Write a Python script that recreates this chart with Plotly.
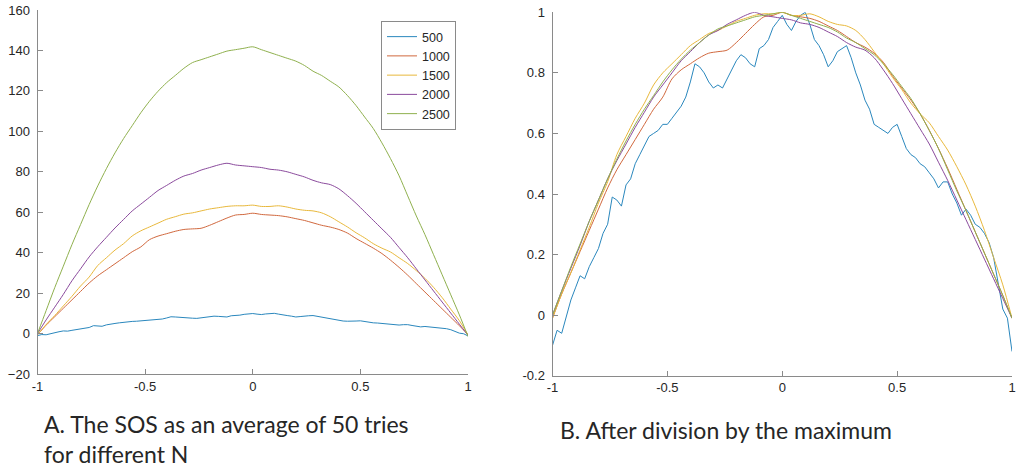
import numpy as np
import plotly.graph_objects as go

# ---- data ----
series_names = ["500", "1000", "1500", "2000", "2500"]

# shapes after division by the maximum (panel B), sampled evenly on [-1, 1]
norm_500 = [-0.10, -0.05, -0.06, 0.00, 0.05, 0.09, 0.13, 0.12, 0.16, 0.19,
            0.22, 0.27, 0.30, 0.39, 0.38, 0.36, 0.43, 0.45, 0.50, 0.53,
            0.56, 0.59, 0.60, 0.61, 0.63, 0.63, 0.65, 0.67, 0.69, 0.72,
            0.77, 0.83, 0.82, 0.80, 0.77, 0.75, 0.76, 0.75, 0.78, 0.81,
            0.84, 0.86, 0.85, 0.83, 0.82, 0.88, 0.89, 0.91, 0.95, 0.97,
            0.99, 0.96, 0.94, 0.97, 0.99, 1.00, 0.96, 0.91, 0.89, 0.86,
            0.82, 0.84, 0.87, 0.88, 0.89, 0.85, 0.80, 0.76, 0.71, 0.68,
            0.63, 0.62, 0.61, 0.60, 0.62, 0.63, 0.59, 0.55, 0.53, 0.52,
            0.50, 0.49, 0.47, 0.45, 0.42, 0.44, 0.44, 0.40, 0.37, 0.33,
            0.35, 0.33, 0.30, 0.29, 0.27, 0.24, 0.19, 0.10, 0.02, -0.01,
            -0.12]
norm_1000 = [-0.01, 0.07, 0.14, 0.21, 0.28, 0.35, 0.42, 0.48, 0.53, 0.58,
             0.63, 0.68, 0.72, 0.78, 0.81, 0.83, 0.85, 0.865, 0.87, 0.875,
             0.90, 0.93, 0.96, 0.985, 0.99, 1.00, 0.99, 0.985, 0.98, 0.97,
             0.955, 0.94, 0.92, 0.90, 0.885, 0.865, 0.835, 0.79, 0.75, 0.71,
             0.665, 0.61, 0.55, 0.485, 0.415, 0.345, 0.275, 0.205, 0.135, 0.065,
             -0.01]
norm_1500 = [-0.01, 0.07, 0.14, 0.215, 0.29, 0.37, 0.44, 0.53, 0.59, 0.65,
             0.70, 0.76, 0.80, 0.83, 0.86, 0.89, 0.91, 0.93, 0.94, 0.955,
             0.97, 0.98, 0.99, 0.995, 0.995, 1.00, 0.99, 0.99, 0.995, 0.985,
             0.97, 0.96, 0.955, 0.94, 0.91, 0.87, 0.83, 0.785, 0.745, 0.70,
             0.665, 0.635, 0.59, 0.545, 0.49, 0.43, 0.36, 0.28, 0.19, 0.10,
             -0.01]
norm_2000 = [0.00, 0.08, 0.155, 0.23, 0.31, 0.38, 0.45, 0.51, 0.565, 0.62,
             0.67, 0.72, 0.76, 0.80, 0.84, 0.87, 0.90, 0.925, 0.94, 0.96,
             0.975, 0.99, 1.00, 0.99, 0.985, 0.98, 0.975, 0.965, 0.96, 0.95,
             0.935, 0.92, 0.90, 0.885, 0.875, 0.85, 0.81, 0.765, 0.715, 0.665,
             0.615, 0.565, 0.505, 0.445, 0.38, 0.315, 0.25, 0.185, 0.12, 0.055,
             -0.01]
norm_2500 = [0.00, 0.08, 0.16, 0.235, 0.31, 0.38, 0.45, 0.515, 0.575, 0.63,
             0.68, 0.725, 0.77, 0.81, 0.845, 0.875, 0.90, 0.925, 0.945, 0.955,
             0.965, 0.975, 0.985, 0.99, 0.995, 1.00, 0.99, 0.98, 0.97, 0.96,
             0.95, 0.935, 0.915, 0.90, 0.88, 0.86, 0.83, 0.795, 0.755, 0.715,
             0.665, 0.61, 0.55, 0.48, 0.41, 0.345, 0.275, 0.205, 0.135, 0.065,
             -0.01]

# maxima of the SOS curves (panel A)
peak_values = [10.0, 59.5, 63.5, 84.2, 141.8]

colors = ["#2a87bd", "#d0683e", "#e8b83c", "#8a4a9c", "#8fb04e"]
line_shapes = ["linear", "spline", "spline", "spline", "spline"]

x_ticks = [-1, -0.5, 0, 0.5, 1]
x_ticktext = ["-1", "-0.5", "0", "0.5", "1"]
yA_ticks = [-20, 0, 20, 40, 60, 80, 100, 120, 140, 160]
yB_ticks = [-0.2, 0, 0.2, 0.4, 0.6, 0.8, 1]
yB_ticktext = ["-0.2", "0", "0.2", "0.4", "0.6", "0.8", "1"]

caption_A = "A. The SOS as an average of 50 tries<br>for different N"
caption_B = "B. After division by the maximum"

# ---- build ----
norms = [norm_500, norm_1000, norm_1500, norm_2000, norm_2500]
fig = go.Figure()
for name, nv, pk, col, ls in zip(series_names, norms, peak_values, colors, line_shapes):
    nv = np.array(nv)
    xs = np.linspace(-1, 1, len(nv))
    sos = nv * pk
    fig.add_trace(go.Scatter(x=xs, y=sos, mode="lines", name=name,
                             line=dict(color=col, width=1, shape=ls, smoothing=0.8),
                             xaxis="x", yaxis="y"))
for name, nv, pk, col, ls in zip(series_names, norms, peak_values, colors, line_shapes):
    xs = np.linspace(-1, 1, len(nv))
    sos = np.array(nv) * pk
    fig.add_trace(go.Scatter(x=xs, y=sos / sos.max(), mode="lines", name=name,
                             line=dict(color=col, width=1, shape=ls, smoothing=0.8),
                             showlegend=False, xaxis="x2", yaxis="y2"))

W, H = 1016, 471
tickfont = dict(family="Liberation Sans, Arial, sans-serif", size=13, color="#262626")
axis_common = dict(showline=True, linecolor="#8a8a8a", linewidth=1, ticks="inside",
                   ticklen=5, tickcolor="#8a8a8a", showgrid=False, zeroline=False,
                   tickfont=tickfont, fixedrange=True, automargin=False)

fig.update_layout(
    width=W, height=H,
    margin=dict(l=0, r=0, t=0, b=0, autoexpand=False),
    paper_bgcolor="white", plot_bgcolor="white",
    xaxis=dict(domain=[37.5 / W, 468 / W], range=[-1, 1], tickvals=x_ticks,
               ticktext=x_ticktext, anchor="y", **axis_common),
    yaxis=dict(domain=[1 - 374 / H, 1 - 10 / H], range=[-20, 160], tickvals=yA_ticks,
               anchor="x", ticklabelstandoff=4, **axis_common),
    xaxis2=dict(domain=[552.5 / W, 1012 / W], range=[-1, 1], tickvals=x_ticks,
                ticktext=x_ticktext, anchor="y2", **axis_common),
    yaxis2=dict(domain=[1 - 375.7 / H, 1 - 12.3 / H], range=[-0.2, 1], tickvals=yB_ticks,
                ticktext=yB_ticktext, anchor="x2", ticklabelstandoff=4, **axis_common),
    legend=dict(x=381 / W, y=1 - 21 / H, xanchor="left", yanchor="top",
                bgcolor="white", bordercolor="#8a8a8a", borderwidth=1,
                font=dict(family="Liberation Sans, Arial, sans-serif", size=12.5, color="#262626"),
                itemwidth=30, tracegroupgap=0),
    showlegend=True,
    annotations=[
        dict(text=caption_A, x=42 / W, y=1 - 408 / H, xref="paper", yref="paper",
             xanchor="left", yanchor="top", align="left", showarrow=False,
             font=dict(family="Lato, sans-serif", size=23, color="#262626")),
        dict(text=caption_B, x=558 / W, y=1 - 414 / H, xref="paper", yref="paper",
             xanchor="left", yanchor="top", align="left", showarrow=False,
             font=dict(family="Lato, sans-serif", size=23, color="#262626")),
    ],
)

fig.write_html("out.html", config={"displayModeBar": False},
               post_script="document.body.style.margin='0';document.body.style.padding='0';")
